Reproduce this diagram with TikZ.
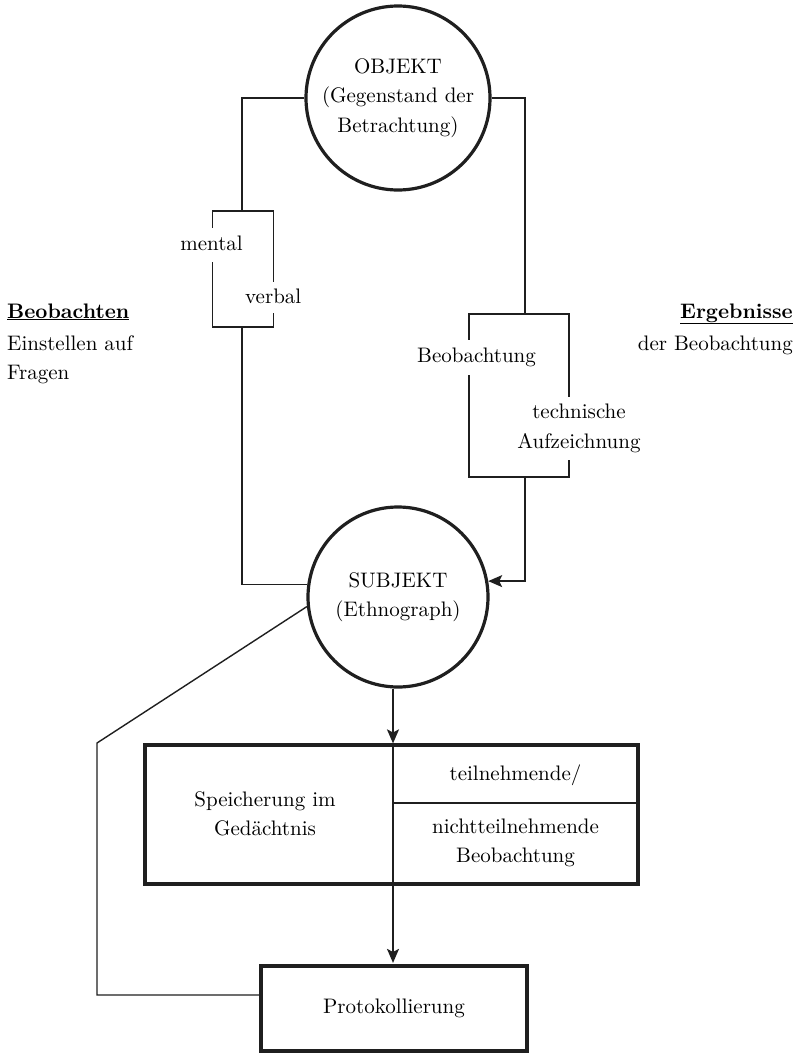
\documentclass[tikz,border=0pt]{standalone}
\usepackage{fontspec}
\setmainfont{lmroman10-regular.otf}[BoldFont=lmroman10-bold.otf]
\usetikzlibrary{arrows.meta}
\begin{document}
\begin{tikzpicture}[x=1pt,y=-1pt,
  conn/.style={line width=1.4pt, draw=black!88},
  arr/.style={conn, -{Stealth[length=14pt,width=12pt,inset=3pt]}},
  heavy/.style={draw=black!88, line width=3.2pt},
  lbl/.style={font=\fontsize{21}{29.5}\selectfont, inner sep=0pt, text=black},
  gaplbl/.style={lbl, fill=white, inner xsep=3pt},
  ring/.style={circle, heavy, inner sep=0pt, lbl, align=center}]
\useasboundingbox (0,0) rectangle (801,1055);
\fill[white] (0,0) rectangle (801,1055);

% axis coordinates
\coordinate (lx) at (242,0);
\coordinate (rx) at (525,0);
\coordinate (ax) at (393,0);

% circles
\node[ring, minimum size=184pt] (objekt) at (398,98) {OBJEKT\\(Gegenstand der\\Betrachtung)};
\node[ring, minimum size=180pt] (subjekt) at (398,597) {SUBJEKT\\(Ethnograph)};

% brackets
\node[conn, draw, minimum width=61pt, minimum height=116pt, inner sep=0pt] (bl) at (243,269) {};
\node[conn, draw, minimum width=100pt, minimum height=163pt, inner sep=0pt] (br) at (519,395.5) {};

\node[gaplbl, anchor=east, text height=14.5pt, text depth=3pt, inner ysep=8.25pt] (mental) at (246,245) {mental};
\node[gaplbl, anchor=west, text height=14.5pt, text depth=3pt, inner ysep=6.75pt] (verbal) at (242,297.5) {verbal};
\node[gaplbl, text height=14.5pt, text depth=4.5pt, inner ysep=8pt] (beob) at (476.5,357.5) {Beobachtung};
\node[gaplbl, align=center, inner ysep=7.4pt] (techn) at (579,428.5) {technische\\Aufzeichnung};

% side labels
\node[lbl, anchor=base west] (l1) at (7,318) {\underline{\textbf{Beobachten}}};
\node[lbl, anchor=base west] (l2) at (7,350) {Einstellen auf};
\node[lbl, anchor=base west] (l3) at (7,379) {Fragen};
\node[lbl, anchor=base east] (r1) at (793,318) {\underline{\textbf{Ergebnisse}}};
\node[lbl, anchor=base east] (r2) at (793,350) {der Beobachtung};

% boxes
\node[heavy, minimum width=493pt, minimum height=139pt, inner sep=0pt] (speicher) at (391.5,814.5) {};
\node[heavy, minimum width=266pt, minimum height=85pt, inner sep=0pt] (proto) at (394,1008.5) {};
\node[lbl] (protot) at (proto.center) {Protokollierung};

\coordinate (mid) at (393,803);
\draw[conn] (speicher.north -| ax) -- (speicher.south -| ax);
\draw[conn] (mid) -- (mid -| speicher.east);
\node[lbl, align=center] (sp1) at (265,814) {Speicherung im\\Gedächtnis};
\node[lbl] (sp2) at (515.5,775) {teilnehmende/};
\node[lbl, align=center] (sp3) at (515.5,843) {nichtteilnehmende\\Beobachtung};

% connectors
\draw[conn] (objekt.west) -| (bl.north -| lx);
\draw[conn] (bl.south -| lx) |- (subjekt.172);
\draw[conn] (objekt.east) -| (br.north -| rx);
\draw[arr] (br.south -| rx) |- (subjekt.10);
\draw[arr] (subjekt.south -| ax) -- (speicher.north -| ax);
\draw[arr, shorten >=1.5pt] (speicher.south -| ax) -- (proto.north -| ax);

\coordinate (dk) at (97,743);
\coordinate (dl) at (97,995);
\draw[conn] (subjekt.186) -- (dk) -- (dl) -- (dl -| proto.west);
\end{tikzpicture}
\end{document}
